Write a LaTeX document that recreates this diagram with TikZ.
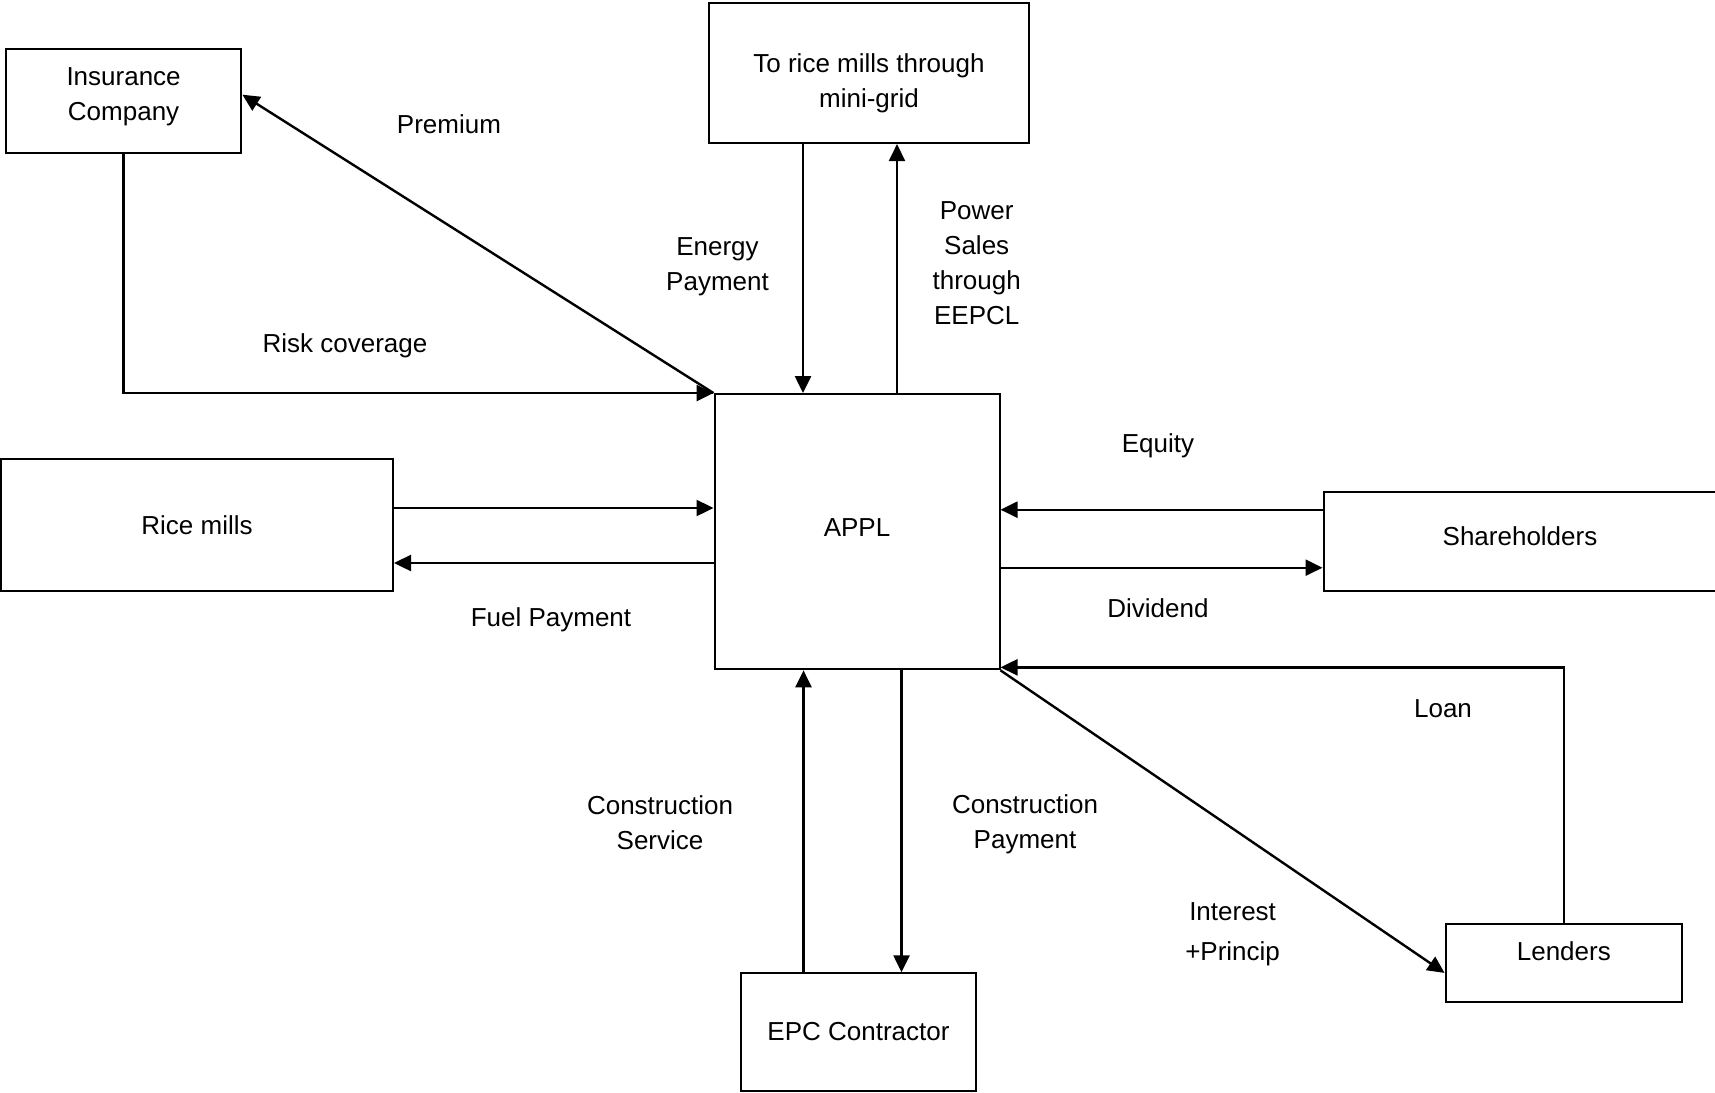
\documentclass[tikz,border=0pt]{standalone}
\usepackage{fontspec}
\setmainfont{Liberation Sans}
\usepackage{xcolor}
\usepackage{tikz}
\usetikzlibrary{arrows.meta}
\usetikzlibrary{shapes,arrows,positioning}

\tikzset{
    box/.style={draw, line width=2pt, inner sep=0pt, align=center},
    flow/.style={-{Triangle[length=17pt,width=16pt]}, line width=2.4pt},
    lbl/.style={align=center},
}

\begin{document}
\begin{tikzpicture}[x=1pt, y=-1pt, font=\fontsize{26}{35}\selectfont]
    \useasboundingbox (0,0) rectangle (1715,1092);

    % parties
    \node[box, minimum width=235.6pt, minimum height=104pt, text depth=14pt] (ins) at (123.6,100.7) {Insurance\\Company};
    \node[box, minimum width=320pt, minimum height=140.3pt, text height=70pt, text depth=0pt] (grid) at (869,72.9) {To rice mills through\\mini-grid};
    \node[box, minimum width=285pt, minimum height=275.3pt, text depth=9pt] (appl) at (857,531.7) {APPL};
    \node[box, minimum width=392pt, minimum height=132pt] (rice) at (197,525) {Rice mills};
    \node[box, minimum width=393pt, minimum height=99.3pt, text depth=11pt] (share) at (1520,541.7) {Shareholders};
    \node[box, minimum width=236.5pt, minimum height=77.7pt, text height=19pt, text depth=24pt] (lenders) at (1563.8,962.9) {Lenders};
    \node[box, minimum width=235.7pt, minimum height=117.4pt] (epc) at (858.5,1032) {EPC Contractor};

    % flows
    \draw[flow] (appl.north west) -- ([yshift=6pt]ins.east);
    \draw[flow] (ins.south) |- (appl.north west);
    \draw[flow] ([xshift=-66pt]grid.south) -- ([xshift=-66pt]grid.south |- appl.north);
    \draw[flow] ([xshift=40pt]appl.north) -- ([xshift=40pt]appl.north |- grid.south);
    \draw[flow] ([yshift=17pt]rice.east) -- ([yshift=17pt]rice.east -| appl.west);
    \draw[flow] ([yshift=-38pt]rice.east -| appl.west) -- ([yshift=-38pt]rice.east);
    \draw[flow] ([yshift=32pt]share.west) -- ([yshift=32pt]share.west -| appl.east);
    \draw[flow] ([yshift=-26pt]share.west -| appl.east) -- ([yshift=-26pt]share.west);
    \draw[flow] ([xshift=-55pt]epc.north) -- ([xshift=-55pt]epc.north |- appl.south);
    \draw[flow] ([xshift=43pt]epc.north |- appl.south) -- ([xshift=43pt]epc.north);
    \draw[flow] (lenders.north) |- ([yshift=3pt]appl.south east);
    \draw[flow] (appl.south east) -- ([yshift=-10pt]lenders.west);

    % labels
    \node[lbl] (premium) at (449,124) {Premium};
    \node[lbl] (risk) at (345,346) {Risk coverage};
    \node[lbl] (energy) at (717.5,267) {Energy\\Payment};
    \node[lbl] (power) at (976.7,263.4) {Power\\Sales\\through\\EEPCL};
    \node[lbl] (equity) at (1158,446) {Equity};
    \node[lbl] (dividend) at (1158,608) {Dividend};
    \node[lbl] (fuel) at (551,620) {Fuel Payment};
    \node[lbl] (loan) at (1443,709) {Loan};
    \node[lbl] (cservice) at (660,823) {Construction\\Service};
    \node[lbl] (cpayment) at (1025,824) {Construction\\Payment};
    \node[lbl] (interest) at (1232.6,934) {Interest\\[5pt]+Princip};
\end{tikzpicture}
\end{document}
